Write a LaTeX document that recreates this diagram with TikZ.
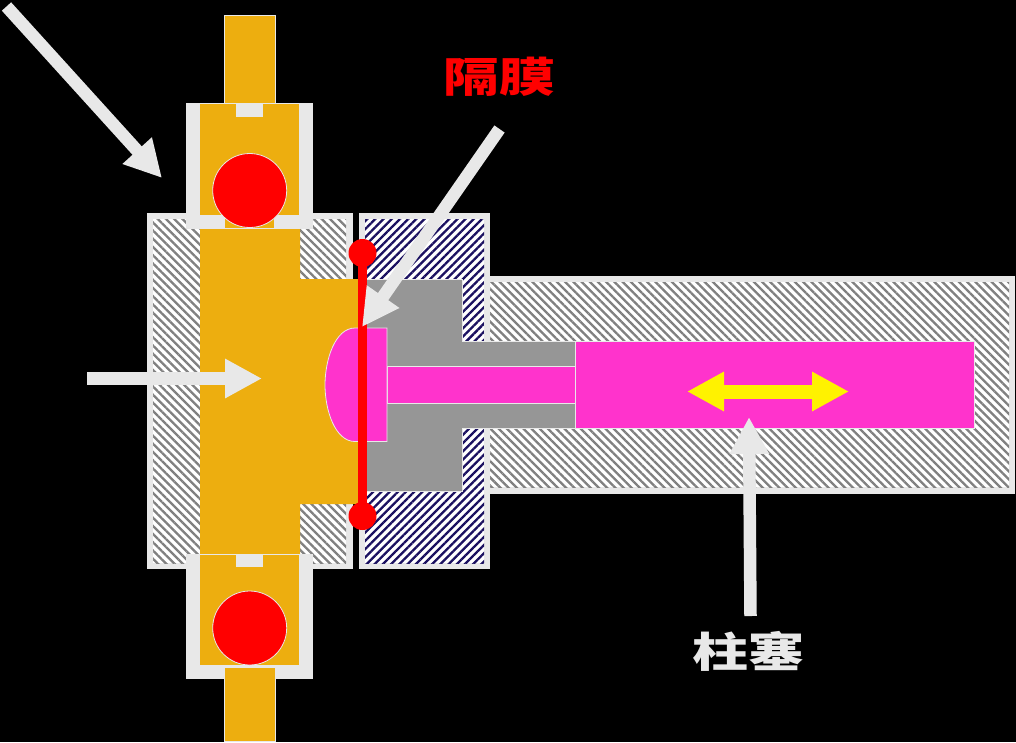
\documentclass[tikz,border=0pt]{standalone}
\usepackage{fontspec}
\newfontfamily\cjk{Noto Sans CJK SC}
\usetikzlibrary{arrows.meta,patterns.meta}
\definecolor{shell}{HTML}{E8E8E8}
\definecolor{brass}{HTML}{EDAE0F}
\definecolor{pinkpart}{HTML}{FF33CC}
\definecolor{cavity}{HTML}{969696}
\definecolor{navyline}{HTML}{1A1060}
\tikzset{
    hatchgray/.style={pattern={Lines[angle=-45,distance=5.8pt,line width=2.3pt]},pattern color=gray},
    hatchnavy/.style={pattern={Lines[angle=45,distance=5.8pt,line width=2.3pt]},pattern color=navyline},
    brasspart/.style={fill=brass,draw=shell,line width=0.7pt},
    pinkblock/.style={fill=pinkpart,draw=shell,line width=0.8pt},
    valveball/.style={fill=red,draw=shell,line width=0.8pt},
    fatarrow/.style={draw=shell,line width=12.5pt,-{Triangle[length=37pt,width=37pt]}},
    moveline/.style={draw=yellow,line width=14pt,{Triangle[length=37pt,width=37pt]}-{Triangle[length=37pt,width=37pt]}},
    bigtext/.style={font=\cjk\bfseries\fontsize{56}{56}\selectfont,inner sep=0pt}
}
\begin{document}
\begin{tikzpicture}[x=1pt,y=-1pt]
    % Background
    \fill[black] (0,0) rectangle (1016,742);

    % Draw left body
    \fill[shell] (146.5,213) rectangle (353,569);
    \fill[white] (153,219) rectangle (346,563);
    \fill[hatchgray] (153,219) rectangle (346,563);

    % Draw right body
    \fill[shell] (359,213) rectangle (490,569);
    \fill[white] (365,219) rectangle (484,563);
    \fill[hatchnavy] (365,219) rectangle (484,563);

    % Draw cylinder
    \fill[shell] (484,275.5) rectangle (1015,493.5);
    \fill[white] (490,282) rectangle (1009,487);
    \fill[hatchgray] (490,282) rectangle (1009,487);

    % Draw cavity
    \draw[fill=cavity,draw=shell,line width=0.7pt] (362,279) -- (462,279) -- (462,341.5) -- (575,341.5)
        -- (575,428) -- (462,428) -- (462,491) -- (362,491) -- cycle;

    % Draw brass chamber
    \fill[brass] (200,229) -- (300,229) -- (300,279) -- (358,279) -- (358,504) -- (300,504)
        -- (300,554) -- (200,554) -- cycle;

    % Draw top valve
    \fill[shell] (186,103) rectangle (313,229);
    \fill[brass] (200,104) rectangle (299,215);
    \fill[brass] (225,215) rectangle (274,228);
    \fill[shell] (236,104) rectangle (263,117);
    \draw[brasspart] (224.5,15.5) rectangle (275,103);
    \draw[valveball] (249.7,190.5) circle (37pt);

    % Draw bottom valve
    \fill[shell] (186,554) rectangle (313,679);
    \fill[brass] (200,555) rectangle (299,665);
    \fill[shell] (236,555) rectangle (263,567);
    \draw[brasspart] (224.5,667) rectangle (275,741);
    \draw[valveball] (249.7,628) circle (37pt);

    % Draw plunger
    \draw[pinkblock] (575,341.5) rectangle (974,428);
    \draw[pinkblock] (387,366) rectangle (575,403);
    \draw[pinkblock] (387,328) -- (355,328) .. controls (335,328) and (325,360) .. (325,385)
        .. controls (325,410) and (335,441.5) .. (355,441.5) -- (387,441.5) -- cycle;

    % Draw diaphragm
    \coordinate (membranetop) at (362.5,253);
    \coordinate (membranebottom) at (362.5,516);
    \draw[red,line width=9pt] (membranetop) -- (membranebottom);
    \fill[red] (membranetop) circle (14pt);
    \fill[red] (membranebottom) circle (14pt);

    % Draw pointers
    \coordinate (intailA) at (6.5,6.5);
    \coordinate (inheadA) at (162,178);
    \draw[fatarrow] (intailA) -- (inheadA);
    \coordinate (intailB) at (87,378.5);
    \coordinate (inheadB) at (262,378.5);
    \draw[fatarrow] (intailB) -- (inheadB);
    \coordinate (membranetail) at (499.5,129);
    \coordinate (membranehead) at (362,327);
    \draw[fatarrow] (membranetail) -- (membranehead);
    \coordinate (plungertail) at (750.5,616);
    \coordinate (plungerhead) at (749,417);
    \draw[fatarrow] (plungertail) -- (plungerhead);

    % Draw stroke arrow
    \coordinate (strokeleft) at (687,391.5);
    \coordinate (strokeright) at (849,391.5);
    \draw[moveline] (strokeleft) -- (strokeright);

    % Labels
    \node[bigtext,text=red] (membranelabel) at (499,77) {\scalebox{1}[0.74]{隔膜}};
    \node[bigtext,text=shell] (plungerlabel) at (748.5,651) {\scalebox{1}[0.74]{柱塞}};
\end{tikzpicture}
\end{document}
